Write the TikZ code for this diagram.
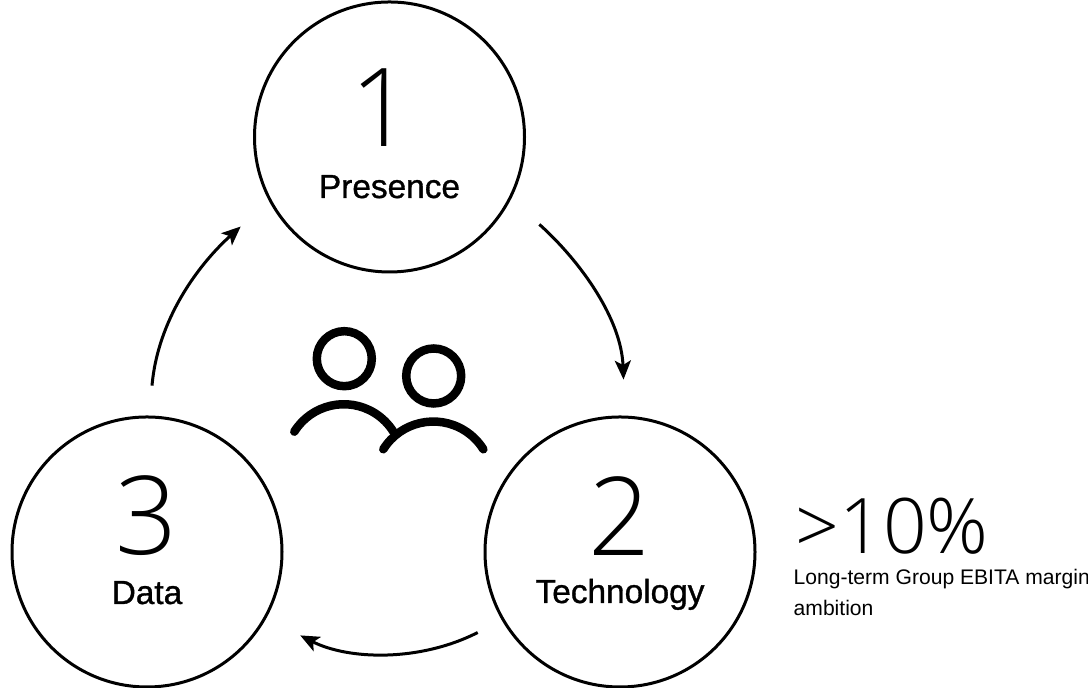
\documentclass[tikz,border=0pt]{standalone}
\usepackage{fontspec}
\setmainfont{Liberation Sans}
\newfontfamily\labelfont[FakeBold=1]{Liberation Sans}
\newfontfamily\thinfont[UprightFont={* Light}]{Open Sans}
\usetikzlibrary{arrows.meta}
\tikzset{
  ring/.style={circle, draw, line width=.03cm, minimum size=2.7cm, inner sep=0pt},
  flowarrow/.style={line width=.03cm, -{Stealth[length=.19cm,width=.16cm,inset=.045cm]}},
  bignum/.style={anchor=base, inner sep=0pt, font=\thinfont\fontsize{31}{31}\selectfont},
  ringlabel/.style={anchor=base, inner sep=0pt, font=\labelfont\fontsize{9.5}{9.5}\selectfont},
  people/.style={line width=.085cm, line cap=round}
}
\begin{document}
\begin{tikzpicture}
\useasboundingbox (0,0) rectangle (10.88,6.88);
% the three rings
\node[ring] (presence) at (3.895,5.51) {};
\node[ring] (technology) at (6.20,1.36) {};
\node[ring] (data) at (1.47,1.36) {};
\node[bignum] (one) at (3.82,5.41) {1};
\node[bignum] (two) at (6.20,1.32) {2};
\node[bignum] (three) at (1.47,1.33) {3};
\node[ringlabel] (presencetext) at (3.895,4.90) {Presence};
\node[ringlabel] (technologytext) at (6.20,.85) {Technology};
\node[ringlabel] (datatext) at (1.47,.84) {Data};
% arrows between the rings
\draw[flowarrow, shorten <=.38cm, shorten >=.36cm] (presence.-27) to[out=-42,in=92] (technology.88);
\draw[flowarrow, shorten <=.27cm, shorten >=.38cm] (technology.210) to[out=-153,in=-27] (data.-29);
\draw[flowarrow, shorten <=.30cm, shorten >=.38cm] (data.89) to[out=85,in=-138] (presence.208);
% people in the middle
\draw[people] (3.443,3.293) circle (.275);
\draw[people] (4.337,3.12) circle (.275);
\draw[people] (2.943,2.563) arc (148:32:.584);
\draw[people] (3.833,2.387) arc (148:32:.59);
% margin note
\node[anchor=base west, inner sep=0pt, font=\thinfont\fontsize{21.8}{21.8}\selectfont] (margin) at (7.95,1.34) {>10\%};
\node[anchor=base west, inner sep=0pt, font=\fontsize{6}{6}\selectfont] (marginline) at (7.93,1.03) {Long-term Group EBITA margin};
\node[anchor=base west, inner sep=0pt, font=\fontsize{6}{6}\selectfont] (marginlast) at (7.93,.72) {ambition};
\end{tikzpicture}
\end{document}
